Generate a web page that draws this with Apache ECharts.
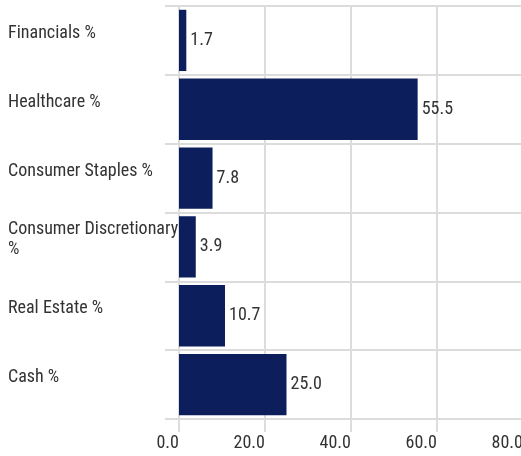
<!DOCTYPE html>
<html>
	<head>
		<meta charset="utf-8">
		<title>Sector weights</title>
		<script src="https://cdn.jsdelivr.net/npm/echarts@6.0.0/dist/echarts.min.js"></script>
		<style>
			html, body { margin: 0; padding: 0; background: #fff; }
			#mainCharts { width: 521px; height: 456px; }
		</style>
	</head>
	<body>
		<div id="mainCharts"></div>
		<script>
			// chart data
			var sectors = ['Financials %', 'Healthcare %', 'Consumer Staples %', 'Consumer Discretionary %', 'Real Estate %', 'Cash %'];
			var weights = [1.7, 55.5, 7.8, 3.9, 10.7, 25.0];
			var xTicks = [0, 20, 40, 60, 80];

			var font = '"Liberation Sans Narrow", "Roboto Condensed", "Arial Narrow", sans-serif';
			var gridColor = '#dcdcdc';

			var myChart = echarts.init(document.getElementById('mainCharts'));
			myChart.setOption({
				animation: false,
				grid: { left: 179, right: -2, top: 6, bottom: 37, outerBoundsMode: 'none', containLabel: false },
				xAxis: {
					type: 'value',
					min: xTicks[0],
					max: xTicks[xTicks.length - 1],
					interval: xTicks[1] - xTicks[0],
					axisLine: { show: true, lineStyle: { color: gridColor, width: 2 } },
					axisTick: { show: true, length: 13, lineStyle: { color: gridColor, width: 2 } },
					splitLine: { show: true, lineStyle: { color: gridColor, width: 2 } },
					axisLabel: {
						align: 'right',
						margin: 15,
						fontFamily: font,
						fontSize: 18,
						color: '#333',
						formatter: function (v) { return v.toFixed(1); }
					}
				},
				yAxis: {
					type: 'category',
					inverse: true,
					data: sectors,
					axisLine: { show: false },
					axisTick: { show: true, length: 14, lineStyle: { color: gridColor, width: 2 } },
					splitLine: { show: true, lineStyle: { color: gridColor, width: 2 } },
					axisLabel: {
						align: 'left',
						verticalAlign: 'middle',
						margin: 171,
						fontFamily: font,
						fontSize: 18,
						color: '#333',
						// long names wrap onto a second line; a spacer line lifts the label a little
						formatter: function (v) {
							var lines = v.length > 20 ? [v.slice(0, v.lastIndexOf(' ')), v.slice(v.lastIndexOf(' ') + 1)] : [v];
							return lines.map(function (l) { return '{t|' + l + '}'; }).join('\n') + '\n{s| }';
						},
						rich: {
							t: { fontFamily: font, fontSize: 18, color: '#333', lineHeight: 20 },
							s: { fontSize: 10, lineHeight: 14 }
						}
					}
				},
				series: [{
					type: 'bar',
					data: weights,
					barCategoryGap: '11%',
					itemStyle: { color: '#0c1f5c' },
					label: {
						show: true,
						position: 'right',
						distance: 4,
						fontFamily: font,
						fontSize: 18,
						color: '#333',
						formatter: function (p) { return p.value.toFixed(1); }
					}
				}]
			});
		</script>
	</body>
</html>
